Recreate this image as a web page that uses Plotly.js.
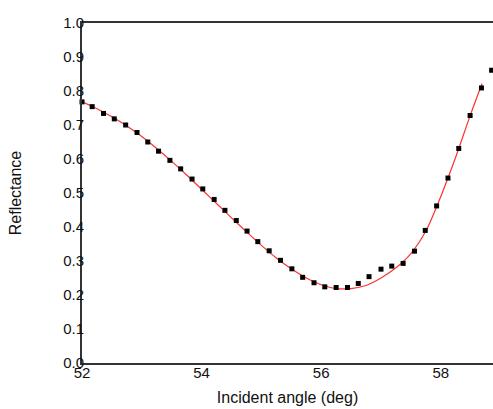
<!DOCTYPE html>
<html>
<head>
<meta charset="utf-8">
<script src="https://cdn.plot.ly/plotly-3.0.1.min.js"></script>
<style>html,body{margin:0;padding:0;background:#fff;}#chart{width:493px;height:409px;}</style>
</head>
<body>
<div id="chart"></div>
<script>
// Measured data (incident angle in degrees, reflectance)
var angleMeasured = [52.00, 52.17, 52.36, 52.54, 52.73, 52.92, 53.10, 53.28, 53.47, 53.65,
  53.84, 54.02, 54.21, 54.39, 54.58, 54.76, 54.94, 55.13, 55.32, 55.51,
  55.69, 55.88, 56.06, 56.25, 56.44, 56.62, 56.80, 57.00, 57.18, 57.37,
  57.56, 57.74, 57.93, 58.12, 58.30, 58.49, 58.68, 58.85];
var reflMeasured = [0.768, 0.754, 0.734, 0.718, 0.700, 0.678, 0.650, 0.623, 0.596, 0.571,
  0.541, 0.512, 0.481, 0.449, 0.419, 0.388, 0.357, 0.330, 0.302, 0.277,
  0.252, 0.236, 0.224, 0.222, 0.222, 0.234, 0.254, 0.276, 0.285, 0.293,
  0.329, 0.390, 0.462, 0.544, 0.631, 0.728, 0.809, 0.861];

// Fitted curve
var angleFit = [52.0, 52.25, 52.5, 52.75, 53.0, 53.25, 53.5, 53.75, 54.0, 54.25,
  54.5, 54.75, 55.0, 55.25, 55.5, 55.75, 56.0, 56.25, 56.5, 56.75,
  57.0, 57.25, 57.5, 57.75, 58.0, 58.25, 58.5, 58.69];
var reflFit = [0.768, 0.748, 0.724, 0.697, 0.666, 0.631, 0.593, 0.553, 0.511, 0.469,
  0.427, 0.386, 0.346, 0.309, 0.277, 0.250, 0.230, 0.219, 0.219, 0.228,
  0.250, 0.280, 0.322, 0.388, 0.490, 0.606, 0.732, 0.822];

var xTicks = [52, 54, 56, 58];
var yTicks = [0.0, 0.1, 0.2, 0.3, 0.4, 0.5, 0.6, 0.7, 0.8, 0.9, 1.0];

var traces = [
  {x: angleFit, y: reflFit, type: 'scatter', mode: 'lines',
   line: {color: '#ff3030', width: 1.2, shape: 'spline', smoothing: 0.8}, hoverinfo: 'skip'},
  {x: angleMeasured, y: reflMeasured, type: 'scatter', mode: 'markers',
   marker: {symbol: 'square', size: 5, color: '#000'}, cliponaxis: false}
];

var layout = {
  width: 493, height: 409,
  margin: {l: 82, r: 0, t: 23, b: 46, pad: 0},
  paper_bgcolor: '#fff', plot_bgcolor: '#fff',
  showlegend: false,
  font: {family: 'Liberation Sans, Arial, sans-serif', color: '#111', size: 15},
  xaxis: {
    range: [52, 58.873], tickvals: xTicks, ticktext: xTicks.map(String),
    showgrid: false, zeroline: false, showline: true, mirror: true,
    linecolor: '#333', linewidth: 2, ticks: '', ticklabelstandoff: -5,
    title: {text: 'Incident angle (deg)', font: {size: 16, color: '#111'}, standoff: 12}
  },
  yaxis: {
    range: [0, 1], tickvals: yTicks, ticktext: yTicks.map(function(v){return v.toFixed(1);}),
    showgrid: false, zeroline: false, showline: true,
    linecolor: '#333', linewidth: 2, ticks: '', ticklabelstandoff: -7,
    title: {text: 'Reflectance', font: {size: 16, color: '#111'}, standoff: 38}
  }
};

Plotly.newPlot('chart', traces, layout, {staticPlot: true});
</script>
</body>
</html>
